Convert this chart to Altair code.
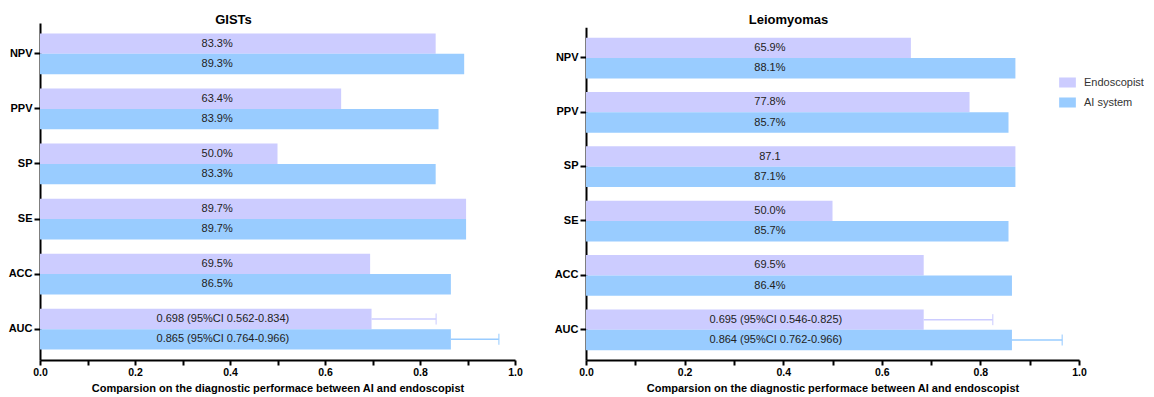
import altair as alt
import pandas as pd

metrics = ["NPV", "PPV", "SP", "SE", "ACC", "AUC"]
groups = ["Endoscopist", "AI system"]
colors = ["#CCCCFF", "#99CCFF"]

# GISTs panel
gist_endo = [0.833, 0.634, 0.500, 0.897, 0.695, 0.698]
gist_ai = [0.893, 0.839, 0.833, 0.897, 0.865, 0.865]
gist_endo_labels = ["83.3%", "63.4%", "50.0%", "89.7%", "69.5%", "0.698 (95%CI 0.562-0.834)"]
gist_ai_labels = ["89.3%", "83.9%", "83.3%", "89.7%", "86.5%", "0.865 (95%CI 0.764-0.966)"]
gist_auc_upper = [0.834, 0.966]

# Leiomyomas panel
leio_endo = [0.659, 0.778, 0.871, 0.500, 0.685, 0.685]
leio_ai = [0.871, 0.857, 0.871, 0.857, 0.864, 0.864]
leio_endo_labels = ["65.9%", "77.8%", "87.1", "50.0%", "69.5%", "0.695 (95%CI 0.546-0.825)"]
leio_ai_labels = ["88.1%", "85.7%", "87.1%", "85.7%", "86.4%", "0.864 (95%CI 0.762-0.966)"]
leio_auc_upper = [0.825, 0.966]

x_title = "Comparsion on the diagnostic performace between AI and endoscopist"
FONT = "Liberation Sans"


def panel(title, endo, ai, endo_lab, ai_lab, upper, height, width, yrange, legend):
    rows = []
    for m, v, l in zip(metrics, endo, endo_lab):
        rows.append({"metric": m, "group": groups[0], "value": v, "label": l})
    for m, v, l in zip(metrics, ai, ai_lab):
        rows.append({"metric": m, "group": groups[1], "value": v, "label": l})
    df = pd.DataFrame(rows)
    err = pd.DataFrame({
        "metric": ["AUC", "AUC"],
        "group": groups,
        "value": [endo[-1], ai[-1]],
        "upper": upper,
    })

    xscale = alt.Scale(domain=[0, 1], nice=False, zero=True)
    xaxis = alt.Axis(
        values=[0, 0.1, 0.2, 0.3, 0.4, 0.5, 0.6, 0.7, 0.8, 0.9, 1.0],
        labelExpr="round(datum.value * 10) % 2 == 0 ? format(datum.value, '.1f') : ''",
        labelFontWeight="bold", labelFontSize=10.5, labelColor="black", labelFont=FONT,
        titleFontWeight="bold", titleFontSize=11, titleColor="black", titleFont=FONT,
        titlePadding=5, tickSize=5, labelPadding=2, labelFlush=False,
    )
    y = alt.Y("metric:N", sort=metrics, title=None,
              scale=alt.Scale(paddingInner=0.26, paddingOuter=0.19, range=yrange),
              axis=alt.Axis(labelFontWeight="bold", labelFontSize=11, labelColor="black",
                            labelFont=FONT, tickSize=6, labelPadding=2))
    yoff = alt.YOffset("group:N", sort=groups, scale=alt.Scale(paddingInner=0, paddingOuter=0))
    cscale = alt.Scale(domain=groups, range=colors)

    bars = alt.Chart(df).mark_bar().encode(
        x=alt.X("value:Q", scale=xscale, axis=xaxis, title=x_title),
        y=y, yOffset=yoff,
        color=alt.Color("group:N", scale=cscale, sort=groups, legend=legend),
    )
    text = alt.Chart(df).mark_text(fontSize=11, font=FONT, color="#222222").transform_calculate(
        lx="datum.metric == 'AUC' ? 0.385 : 0.373"
    ).encode(
        x=alt.X("lx:Q", scale=xscale, axis=xaxis, title=x_title),
        y=y, yOffset=yoff, text="label:N",
    )
    rule = alt.Chart(err).mark_rule(strokeWidth=1.5).encode(
        x=alt.X("value:Q", scale=xscale, axis=xaxis, title=x_title), x2="upper:Q",
        y=y, yOffset=yoff,
        color=alt.Color("group:N", scale=cscale, sort=groups, legend=None),
    )
    cap = alt.Chart(err).mark_tick(thickness=1.5, size=11).encode(
        x=alt.X("upper:Q", scale=xscale, axis=xaxis, title=x_title),
        y=y, yOffset=yoff,
        color=alt.Color("group:N", scale=cscale, sort=groups, legend=None),
    )
    return alt.layer(bars, rule, cap, text).properties(
        width=width, height=height,
        title=alt.TitleParams(title, fontSize=13, fontWeight="bold", font=FONT, color="black",
                              anchor="middle", dx=-44, offset=-4),
    )


left = panel("GISTs", gist_endo, gist_ai, gist_endo_labels, gist_ai_labels, gist_auc_upper,
             337, 475, [0, 337], None)
right = panel("Leiomyomas", leio_endo, leio_ai, leio_endo_labels, leio_ai_labels, leio_auc_upper,
              337, 493, [4.3, 337],
              alt.Legend(orient="none", legendX=473, legendY=51, title=None,
                         symbolType="M-1,-0.6H1V0.6H-1Z", symbolSize=279,
                         symbolStrokeWidth=0, symbolOpacity=1,
                         labelFontSize=11, labelFont=FONT, labelColor="#333333",
                         labelOffset=8, rowPadding=6))

chart = alt.hconcat(left, right, spacing=31).resolve_scale(
    color="independent", x="independent", y="independent"
).resolve_legend(color="independent").configure_view(stroke=None).configure_axis(
    grid=False, domainColor="black", domainWidth=2, tickColor="black", tickWidth=2
).properties(padding={"left": 0, "top": 6, "right": 0, "bottom": 0})

chart.save("out.html", embed_options={"renderer": "svg", "actions": False})
